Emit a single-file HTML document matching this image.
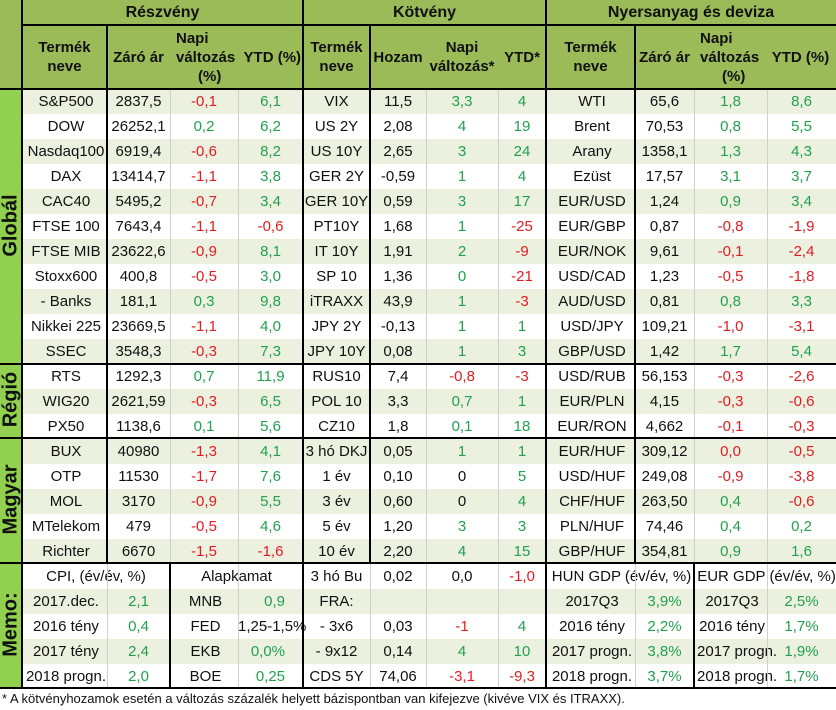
<!DOCTYPE html>
<html><head><meta charset="utf-8">
<style>
*{margin:0;padding:0;box-sizing:border-box}
body{width:836px;height:710px;background:#fff;font-family:"Liberation Sans",Arial,sans-serif;position:relative;overflow:hidden}
#tbl{position:absolute;left:0;top:0;width:836px;border-collapse:collapse;table-layout:fixed;font-size:15px;color:#111}
#tbl td{padding:0;white-space:nowrap;overflow:visible;text-align:center;vertical-align:middle}
.hd td{background:#9bbb59;font-weight:bold}
.h1 td{height:25px;font-size:16px}
.h2 td{height:64px;line-height:19px}
.dr td{height:25px}
.st td{background:#ebf1de}
td.side{background:#92d050 !important}
td.l{text-align:left;padding-left:3px !important}
.r{color:#e31b23}.g{color:#22a050}
.ln{position:absolute;background:#000}
.gl{position:absolute;background:#d0d0d0}
.vlab{position:absolute;left:-60px;width:142px;text-align:center;transform:rotate(-90deg);font-weight:bold;font-size:20px;color:#111}
#foot{position:absolute;left:2px;top:691px;font-size:13px;color:#111}
</style></head><body>
<table id="tbl">
<colgroup><col style="width:22px"><col style="width:85px"><col style="width:63px"><col style="width:68px"><col style="width:65px"><col style="width:67px"><col style="width:56px"><col style="width:72px"><col style="width:48px"><col style="width:89px"><col style="width:59px"><col style="width:73px"><col style="width:69px"></colgroup>
<tbody id="tb">
<tr class="hd h1"><td></td><td colspan="4">Részvény</td><td colspan="4">Kötvény</td><td colspan="4">Nyersanyag és deviza</td></tr>
<tr class="hd h2"><td></td><td>Termék<br>neve</td><td>Záró ár</td><td colspan="2" style="text-align:left;padding-left:6px">Napi&nbsp;&nbsp;&nbsp;&nbsp;&nbsp;&nbsp;&nbsp;&nbsp;&nbsp;&nbsp;&nbsp;&nbsp;&nbsp;&nbsp;&nbsp;&nbsp;&nbsp;<br><span style="margin-left:0">változás&nbsp;&nbsp;YTD (%)</span><br><span style="margin-left:22px">(%)</span></td><td>Termék<br>neve</td><td>Hozam</td><td>Napi<br>változás*</td><td>YTD*</td><td>Termék<br>neve</td><td>Záró ár</td><td colspan="2" style="text-align:left;padding-left:6px">Napi<br>változás&nbsp;&nbsp;&nbsp;YTD (%)<br><span style="margin-left:22px">(%)</span></td></tr>
</tbody></table>
<div id="ov"></div>
<div class="vlab" style="top:214px">Globál</div>
<div class="vlab" style="top:388px">Régió</div>
<div class="vlab" style="top:488px">Magyar</div>
<div class="vlab" style="top:613px">Memo:</div>
<div id="foot">* A kötvényhozamok esetén a változás százalék helyett bázispontban van kifejezve (kivéve VIX és ITRAXX).</div>
<script>
// row data: name, close, daily, ytd | bond name, yield, daily, ytd | fx name, close, daily, ytd
const global = [
["S&P500","2837,5","-0,1","6,1","VIX","11,5","3,3","4","WTI","65,6","1,8","8,6"],
["DOW","26252,1","0,2","6,2","US 2Y","2,08","4","19","Brent","70,53","0,8","5,5"],
["Nasdaq100","6919,4","-0,6","8,2","US 10Y","2,65","3","24","Arany","1358,1","1,3","4,3"],
["DAX","13414,7","-1,1","3,8","GER 2Y","-0,59","1","4","Ezüst","17,57","3,1","3,7"],
["CAC40","5495,2","-0,7","3,4","GER 10Y","0,59","3","17","EUR/USD","1,24","0,9","3,4"],
["FTSE 100","7643,4","-1,1","-0,6","PT10Y","1,68","1","-25","EUR/GBP","0,87","-0,8","-1,9"],
["FTSE MIB","23622,6","-0,9","8,1","IT 10Y","1,91","2","-9","EUR/NOK","9,61","-0,1","-2,4"],
["Stoxx600","400,8","-0,5","3,0","SP 10","1,36","0","-21","USD/CAD","1,23","-0,5","-1,8"],
["   - Banks","181,1","0,3","9,8","iTRAXX","43,9","1","-3","AUD/USD","0,81","0,8","3,3"],
["Nikkei 225","23669,5","-1,1","4,0","JPY 2Y","-0,13","1","1","USD/JPY","109,21","-1,0","-3,1"],
["SSEC","3548,3","-0,3","7,3","JPY 10Y","0,08","1","3","GBP/USD","1,42","1,7","5,4"]];
const regio = [
["RTS","1292,3","0,7","11,9","RUS10","7,4","-0,8","-3","USD/RUB","56,153","-0,3","-2,6"],
["WIG20","2621,59","-0,3","6,5","POL 10","3,3","0,7","1","EUR/PLN","4,15","-0,3","-0,6"],
["PX50","1138,6","0,1","5,6","CZ10","1,8","0,1","18","EUR/RON","4,662","-0,1","-0,3"]];
const magyar = [
["BUX","40980","-1,3","4,1","3 hó DKJ","0,05","1","1","EUR/HUF","309,12","0,0","-0,5"],
["OTP","11530","-1,7","7,6","1 év","0,10","0","5","USD/HUF","249,08","-0,9","-3,8"],
["MOL","3170","-0,9","5,5","3 év","0,60","0","4","CHF/HUF","263,50","0,4","-0,6"],
["MTelekom","479","-0,5","4,6","5 év","1,20","3","3","PLN/HUF","74,46","0,4","0,2"],
["Richter","6670","-1,5","-1,6","10 év","2,20","4","15","GBP/HUF","354,81","0,9","1,6"]];
const memo = [
["2017.dec.","2,1","MNB","0,9","FRA:","","","","2017Q3","3,9%","2017Q3","2,5%"],
["2016 tény","0,4","FED","1,25-1,5%","- 3x6","0,03","-1","4","2016 tény","2,2%","2016 tény","1,7%"],
["2017 tény","2,4","EKB","0,0%","- 9x12","0,14","4","10","2017 progn.","3,8%","2017 progn.","1,9%"],
["2018 progn.","2,0","BOE","0,25","CDS 5Y","74,06","-3,1","-9,3","2018 progn.","3,7%","2018 progn.","1,7%"]];
const memoHead = ["CPI, (év/év, %)","Alapkamat","3 hó Bu","0,02","0,0","-1,0","HUN GDP (év/év, %)","EUR GDP (év/év, %)"];
const blackVals = {"1 év|0":1,"3 év|0":1};
const tb = document.getElementById('tb');
function col(v){ if(v.startsWith('-')) return 'r'; return 'g'; }
function cell(tr, txt, cls){
  const td=document.createElement('td');
  
  
  if(cls) td.className=cls;
  td.textContent=txt; tr.appendChild(td); return td;
}
function section(rows, startStripe){
  rows.forEach((r,i)=>{
    const tr=document.createElement('tr');
    
    
    tr.className='dr'+(((i%2===0)===startStripe)?' st':'');
    cell(tr,'','side');
    const n=cell(tr,r[0],'l'); if(r[0].startsWith(' ')) n.style.paddingLeft='14px';
    cell(tr,r[1]); cell(tr,r[2],col(r[2])); cell(tr,r[3],col(r[3]));
    cell(tr,r[4]); cell(tr,r[5]);
    cell(tr,r[6],blackVals[r[4]+'|'+r[6]]?'':col(r[6])); cell(tr,r[7],col(r[7]));
    cell(tr,r[8],'l'); cell(tr,r[9]);
    const d=r[10]==='0,0'?'r':col(r[10]); cell(tr,r[10],d); cell(tr,r[11],col(r[11]));
    tb.appendChild(tr);
  });
}
section(global,true); section(regio,false); section(magyar,true);
// memo header row
let tr=document.createElement('tr');


tr.className='dr';
cell(tr,'','side');
let c=cell(tr,memoHead[0]); c.colSpan=2;
c=cell(tr,memoHead[1]); c.colSpan=2;
cell(tr,memoHead[2]); cell(tr,memoHead[3]); cell(tr,memoHead[4]); cell(tr,memoHead[5],'r');
c=cell(tr,memoHead[6],'l'); c.colSpan=2;
c=cell(tr,memoHead[7],'l'); c.colSpan=2;
tb.appendChild(tr);
memo.forEach((r,i)=>{
  const tr=document.createElement('tr');
  
  
  tr.className='dr'+(i%2===0?' st':'');
  cell(tr,'','side');
  cell(tr,r[0],'l'); cell(tr,r[1],'g');
  cell(tr,r[2],'l');
  const v=cell(tr,r[3],r[3].indexOf('-')>0?'':'g');
  if(r[3].indexOf('-')>0){v.style.textAlign='right';v.style.paddingRight='20px';} else {v.style.textAlign='right';v.style.paddingRight='18px';}
  cell(tr,r[4]); cell(tr,r[5]); cell(tr,r[6],r[6]?col(r[6]):''); cell(tr,r[7],r[7]?col(r[7]):'');
  cell(tr,r[8],'l'); cell(tr,r[9],'g'); cell(tr,r[10],'l'); cell(tr,r[11],'g');
  tb.appendChild(tr);
});
// lines overlay
const ov=document.getElementById('ov');
function ln(cls,x,y,w,h){const d=document.createElement('div');d.className=cls;d.style.left=x+'px';d.style.top=y+'px';d.style.width=w+'px';d.style.height=h+'px';


ov.appendChild(d);}
// gray verticals
[[170,89,563],[238,89,563],[426,89,688],[498,89,688],[694,89,563],[767,89,563],[107,563,688],[238,563,688],[370,563,688],[635,563,688],[767,563,688]].forEach(a=>ln('gl',a[0],a[1],1,a[2]-a[1]));
// dark verticals
[[21,0,689],[302,0,689],[545,0,689],[106,25,563],[369,25,563],[634,25,563],[169,563,689],[693,563,689]].forEach(a=>ln('ln',a[0],a[1],2,a[2]-a[1]));
// dark horizontals
ln('ln',22,24,814,2);
[88,363,437,562,687].forEach(y=>ln('ln',0,y,836,2));
</script>
</body></html>
